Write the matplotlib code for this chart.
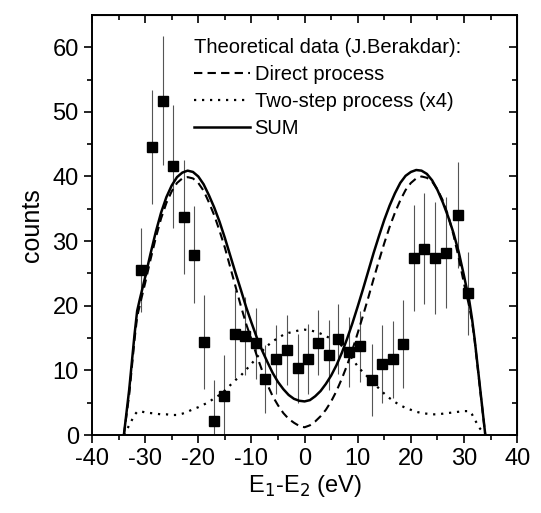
import matplotlib.pyplot as plt
from matplotlib.lines import Line2D
import numpy as np

plt.rcParams["font.family"] = ["Liberation Sans", "DejaVu Sans"]
plt.rcParams["axes.unicode_minus"] = False

# measured points
x_meas = [-30.7, -28.7, -26.7, -24.8, -22.7, -20.8, -18.9, -17.0, -15.1, -13.1,
          -11.2, -9.2, -7.5, -5.4, -3.3, -1.2, 0.6, 2.5, 4.5, 6.3,
          8.3, 10.5, 12.6, 14.6, 16.6, 18.5, 20.5, 22.5, 24.5, 26.6,
          28.8, 30.8]
y_meas = [25.6, 44.6, 51.7, 41.6, 33.7, 27.9, 14.4, 2.2, 6.1, 15.6,
          15.3, 14.2, 8.7, 11.7, 13.1, 10.3, 11.7, 14.3, 12.4, 14.8,
          12.9, 13.7, 8.5, 11.0, 11.7, 14.1, 27.4, 28.8, 27.4, 28.2,
          34.0, 21.9]
y_err = [6.5, 8.8, 10.0, 9.5, 8.8, 7.5, 7.3, 6.3, 6.3, 6.8,
         6.0, 5.5, 5.3, 5.3, 5.4, 5.4, 5.4, 5.0, 5.4, 5.4,
         5.4, 5.5, 5.6, 6.0, 6.0, 6.8, 8.2, 8.6, 8.7, 8.6,
         8.2, 6.4]

# theory curves (Berakdar)
x_th = [-34, -33, -32, -31.5, -31, -30, -29, -28, -27, -26, -25, -24, -23, -22,
        -21, -20, -19, -18, -17, -16, -15, -14, -13, -12, -11, -10, -9, -8,
        -7, -6, -5, -4, -3, -2, -1, 0,
        1, 2, 3, 4, 5, 6, 7, 8, 9, 10, 11, 12, 13, 14, 15, 16, 17, 18,
        19, 20, 21, 22, 23, 24, 25, 26, 27, 28, 29, 30, 31, 31.5, 32, 33, 34]
direct = [0, 6.2, 14.7, 18.3, 20.1, 23.5, 27.1, 30.5, 33.5, 35.9, 37.7, 39.0, 39.7, 39.9,
          39.7, 39.0, 37.8, 36.0, 34.0, 31.6, 29.0, 26.0, 23.0, 20.0, 17.2, 14.8, 12.3, 10.0,
          7.8, 6.0, 4.6, 3.4, 2.5, 1.9, 1.4, 1.2,
          1.5, 2.1, 2.9, 3.9, 5.2, 6.8, 8.7, 10.8, 13.2, 15.8, 18.5, 21.3, 24.2, 27.0, 29.7, 32.2, 34.4, 36.3,
          37.9, 39.0, 39.7, 40.0, 39.8, 39.2, 38.0, 36.3, 34.0, 31.0, 27.4, 23.4, 19.8, 17.6, 14.6, 7.2, 0]
twostep = [0, 1.5, 3.1, 3.6, 3.7, 3.5, 3.4, 3.3, 3.2, 3.2, 3.1, 3.1, 3.3, 3.6,
           4.0, 4.3, 4.7, 5.1, 5.7, 6.2, 6.9, 7.7, 8.5, 9.2, 10.1, 11.0, 12.0, 13.0,
           13.8, 14.5, 15.0, 15.5, 15.8, 16.0, 16.2, 16.3,
           16.2, 16.0, 15.7, 15.3, 14.9, 14.4, 13.8, 13.0, 11.8, 10.6, 9.7, 8.9, 8.0, 7.2, 6.4, 5.7, 5.1, 4.6,
           4.2, 3.9, 3.6, 3.4, 3.3, 3.2, 3.2, 3.3, 3.4, 3.5, 3.6, 3.7, 3.7, 3.2, 2.4, 1.0, 0]
total = [0, 7.0, 15.5, 19.2, 21.0, 24.4, 28.0, 31.4, 34.4, 36.8, 38.6, 39.9, 40.6, 40.9,
         40.7, 40.0, 38.8, 37.1, 35.2, 33.0, 30.5, 27.8, 25.1, 22.5, 19.8, 17.4, 15.1, 13.1,
         11.3, 9.6, 8.2, 7.1, 6.2, 5.6, 5.3, 5.2,
         5.4, 6.0, 6.8, 7.9, 9.2, 10.8, 12.7, 14.9, 17.3, 19.9, 22.6, 25.4, 28.2, 30.8, 33.3, 35.5, 37.4, 39.0,
         40.1, 40.7, 41.0, 40.9, 40.4, 39.4, 37.9, 36.0, 33.8, 31.3, 28.3, 24.6, 20.7, 18.0, 14.8, 7.4, 0]

fig = plt.figure(figsize=(5.41, 5.13), dpi=100)
ax = fig.add_axes([0.170, 0.152, 0.786, 0.819])

ax.errorbar(x_meas, y_meas, yerr=y_err, fmt="none", ecolor="#555555",
            elinewidth=0.8, capsize=0, zorder=2)
ax.plot(x_meas, y_meas, "s", color="black", markersize=7.5, zorder=4)

ax.plot(x_th, direct, color="black", lw=1.5, ls=(0, (4, 2.5)), zorder=3)
ax.plot(x_th, twostep, color="black", lw=1.6, ls=(0, (1, 2.6)), zorder=3)
ax.plot(x_th, total, color="black", lw=1.8, zorder=3)

ax.set_xlim(-40, 40)
ax.set_ylim(0, 65)
xmaj = np.arange(-40, 41, 10)
xmin = np.arange(-35, 40, 10)
ymaj = np.arange(0, 61, 10)
ymin = np.arange(5, 65, 10)
ax.set_xticks(xmaj)
ax.set_yticks(ymaj)
ax.set_xticks(xmin, minor=True)
ax.set_yticks(ymin, minor=True)
ax.tick_params(which="both", direction="out", labelsize=17, width=1.2)
ax.tick_params(which="major", length=6)
ax.tick_params(which="minor", length=3.5)
for s in ax.spines.values():
    s.set_linewidth(1.4)

# mirrored axes with inward ticks
top = ax.secondary_xaxis("top")
top.set_xticks(xmaj)
top.set_xticks(xmin, minor=True)
top.tick_params(which="both", direction="in", labeltop=False, width=1.2)
top.tick_params(which="major", length=6)
top.tick_params(which="minor", length=3.5)
right = ax.secondary_yaxis("right")
right.set_yticks(ymaj)
right.set_yticks(ymin, minor=True)
right.tick_params(which="both", direction="in", labelright=False, width=1.2)
right.tick_params(which="major", length=6)
right.tick_params(which="minor", length=3.5)

ax.set_xlabel("E$_1$-E$_2$ (eV)", fontsize=17, labelpad=2)
ax.set_ylabel("counts", fontsize=18, labelpad=6)

handles = [Line2D([], [], color="black", lw=1.5, ls=(0, (4, 2.5))),
           Line2D([], [], color="black", lw=1.6, ls=(0, (1, 2.6))),
           Line2D([], [], color="black", lw=1.8)]
labels = ["Direct process", "Two-step process (x4)", "SUM"]
leg = ax.legend(handles, labels, title="Theoretical data (J.Berakdar):",
                loc="upper left", bbox_to_anchor=(0.207, 0.978), frameon=False,
                fontsize=14.5, title_fontsize=14.5, alignment="left",
                handlelength=2.8, handletextpad=0.2, labelspacing=0.4,
                borderpad=0.2)

plt.savefig("out.png", dpi=100)
